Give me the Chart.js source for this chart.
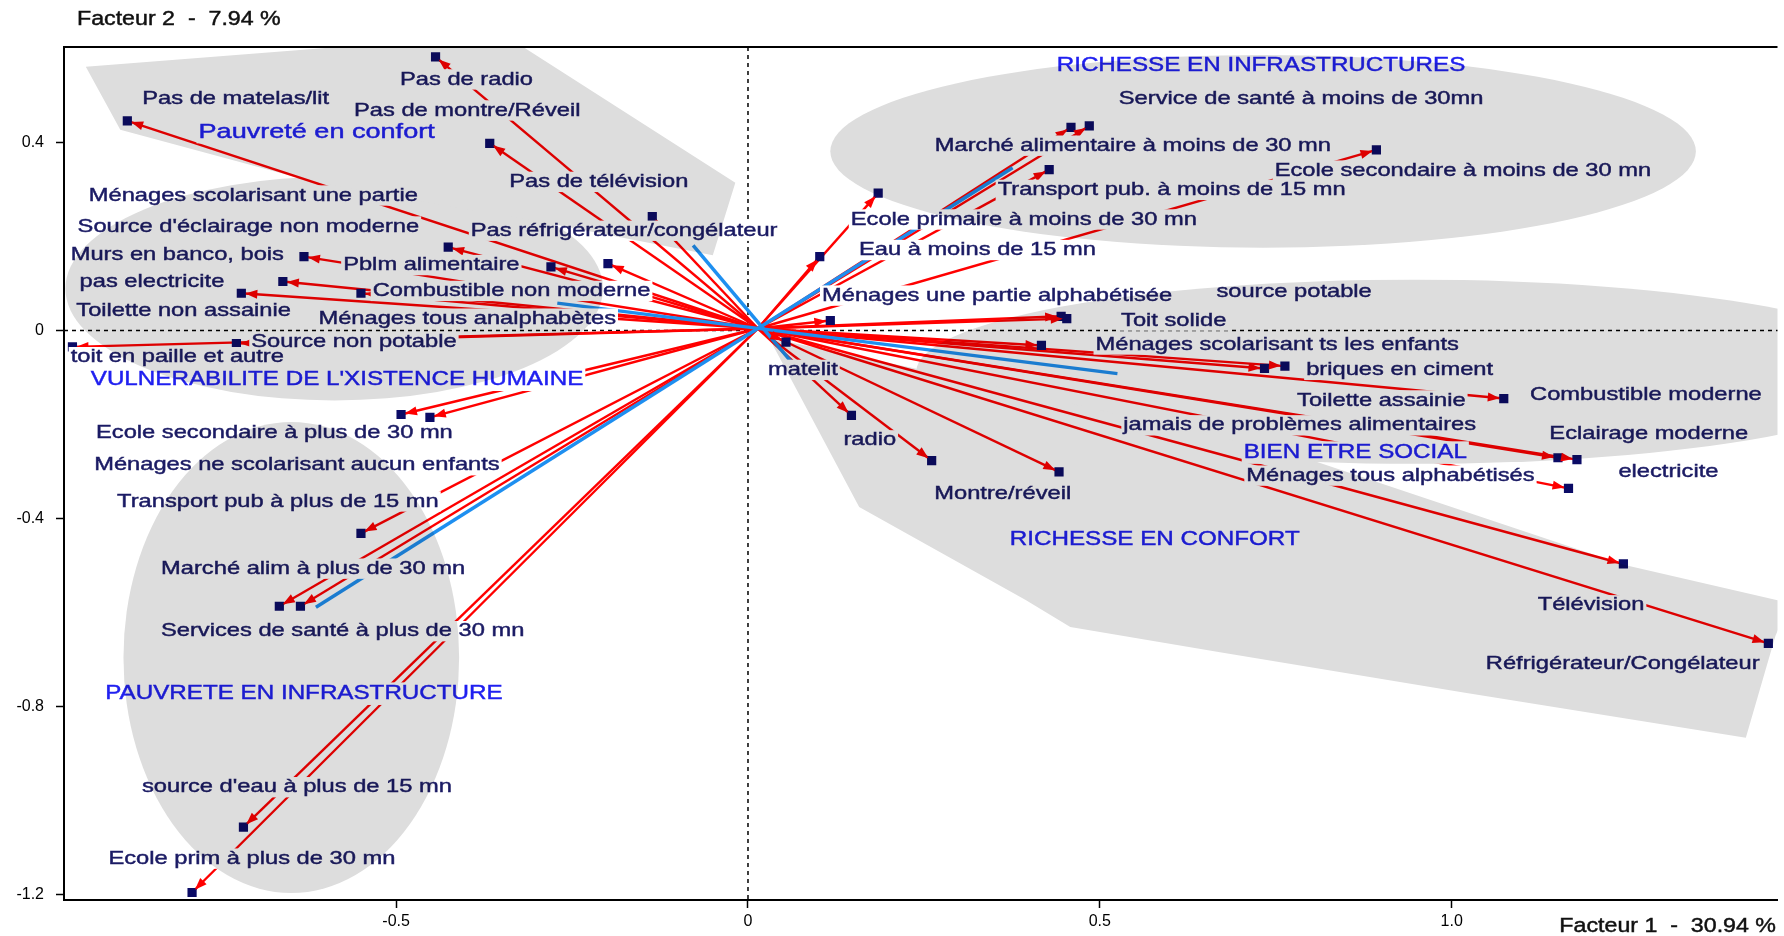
<!DOCTYPE html>
<html>
<head>
<meta charset="utf-8">
<script src="https://cdn.jsdelivr.net/npm/chart.js@4.4.1/dist/chart.umd.min.js"></script>
<style>
  html, body { margin: 0; padding: 0; background: #fff; }
</style>
</head>
<body>
<canvas id="chart" width="1784" height="936"></canvas>
<script>
// modalities: coordinates on factor 1 and factor 2
const factor1 = [
  -0.444, -0.882, -0.367, -0.136, -0.199, -0.280, -0.426, -0.631, -0.661, -0.720, -0.550, -0.727, -0.960,
  -0.493, -0.452, -0.550, -0.666, -0.636, -0.717, -0.790,
  0.459, 0.485, 0.893, 0.428, 0.185, 0.102, 0.117, 0.445, 0.453, 0.417, 0.763, 0.734, 1.074, 0.054,
  0.147, 0.261, 0.442, 1.151, 1.178, 1.166, 1.244, 1.450
];
const factor2 = [
  0.582, 0.446, 0.398, 0.242, 0.142, 0.135, 0.177, 0.157, 0.104, 0.079, 0.079, -0.028, -0.035,
  -0.179, -0.185, -0.432, -0.587, -0.587, -1.057, -1.196,
  0.432, 0.435, 0.384, 0.342, 0.292, 0.157, 0.021, 0.030, 0.025, -0.032, -0.076, -0.081, -0.145, -0.025,
  -0.181, -0.277, -0.301, -0.271, -0.275, -0.336, -0.497, -0.666
];
const arrowOrigin = [0.014, 0.004];

// blue axes through the origin
const axisFrom1 = [-0.614, -0.271, -0.078];
const axisFrom2 = [-0.589, 0.058, 0.181];
const axisTo1 = [0.376, 0.525, 0.064];
const axisTo2 = [0.346, -0.092, -0.071];

const xTicks = [-0.5, 0, 0.5, 1.0];
const yTicks = [0.4, 0, -0.4, -0.8, -1.2];

const labelText = [
  'Pas de radio', 'Pas de matelas/lit', 'Pas de montre/Réveil', 'Pas de télévision', 'Ménages scolarisant une partie',
  "Source d'éclairage non moderne", 'Pas réfrigérateur/congélateur', 'Murs en banco, bois', 'Pblm alimentaire',
  'pas electricite', 'Combustible non moderne', 'Toilette non assainie', 'Ménages tous analphabètes',
  'Source non potable', 'toit en paille et autre', 'Ecole secondaire à plus de 30 mn',
  'Ménages ne scolarisant aucun enfants', 'Transport pub à plus de 15 mn', 'Marché alim à plus de 30 mn',
  'Services de santé à plus de 30 mn', "source d'eau à plus de 15 mn", 'Ecole prim à plus de 30 mn',
  'Service de santé à moins de 30mn', 'Marché alimentaire à moins de 30 mn', 'Ecole secondaire à moins de 30 mn',
  'Transport pub. à moins de 15 mn', 'Ecole primaire à moins de 30 mn', 'Eau à moins de 15 mn',
  'Ménages une partie alphabétisée', 'source potable', 'Toit solide', 'Ménages scolarisant ts les enfants',
  'matelit', 'briques en ciment', 'Toilette assainie', 'Combustible moderne', 'jamais de problèmes alimentaires',
  'Eclairage moderne', 'radio', 'Ménages tous alphabétisés', 'electricite', 'Montre/réveil', 'Télévision',
  'Réfrigérateur/Congélateur'
];
const labelX = [
  -0.400, -0.728, -0.399, -0.212, -0.703, -0.710, -0.176, -0.811, -0.450, -0.847, -0.336, -0.802, -0.399,
  -0.560, -0.811, -0.673, -0.641, -0.668, -0.618, -0.576, -0.641, -0.705,
  0.786, 0.547, 1.016, 0.602, 0.392, 0.326, 0.354, 0.776, 0.605, 0.752, 0.078, 0.926, 0.900, 1.276, 0.784,
  1.280, 0.173, 0.913, 1.308, 0.362, 1.198, 1.243
];
const labelY = [
  0.534, 0.493, 0.468, 0.316, 0.287, 0.221, 0.212, 0.161, 0.139, 0.103, 0.084, 0.042, 0.025,
  -0.025, -0.057, -0.219, -0.287, -0.364, -0.507, -0.640, -0.972, -1.124,
  0.493, 0.393, 0.340, 0.299, 0.236, 0.171, 0.074, 0.081, 0.021, -0.030, -0.084, -0.084, -0.149, -0.137, -0.202,
  -0.221, -0.234, -0.309, -0.301, -0.347, -0.585, -0.710
];

const groupText = [
  'Pauvreté en confort', "VULNERABILITE DE L'XISTENCE HUMAINE", 'PAUVRETE EN INFRASTRUCTURE',
  'RICHESSE EN INFRASTRUCTURES', 'BIEN ETRE SOCIAL', 'RICHESSE EN CONFORT'
];
const groupX = [-0.613, -0.584, -0.631, 0.729, 0.863, 0.578];
const groupY = [0.422, -0.105, -0.773, 0.563, -0.260, -0.444];

// grey zones (ellipses, then two polygons)
const zoneCx = [-0.588, -0.649, 0.732, 0.947];
const zoneCy = [0.089, -0.696, 0.381, -0.088];
const zoneRx = [0.382, 0.2385, 0.615, 0.708];
const zoneRy = [0.238, 0.501, 0.205, 0.196];
const poorComfortX = [-0.941, -0.455, -0.335, -0.018, -0.050, -0.271, -0.617, -0.892];
const poorComfortY = [0.561, 0.618, 0.618, 0.314, 0.160, 0.224, 0.316, 0.427];
const richComfortX = [0.030, 0.260, 0.777, 1.246, 1.480, 1.460, 1.418, 1.019, 0.675, 0.458, 0.394, 0.158];
const richComfortY = [-0.016, -0.088, -0.264, -0.499, -0.580, -0.650, -0.867, -0.771, -0.686, -0.631, -0.573, -0.376];

const FONT = '"Liberation Sans", Arial, sans-serif';
const NAVY = '#0b0b66';
const RED = '#ff0000';
const BLUE = '#1e8ff0';

function stretchText(ctx, text, px, py, size, sx, color, align) {
  ctx.font = size + 'px ' + FONT;
  const w = ctx.measureText(text).width * sx;
  const left = align === 'center' ? px - w / 2 : align === 'right' ? px - w : px;
  ctx.save();
  ctx.translate(left, py);
  ctx.scale(sx, 1);
  ctx.fillStyle = color;
  ctx.strokeStyle = color;
  ctx.lineWidth = 0.45;
  ctx.textAlign = 'left';
  ctx.textBaseline = 'middle';
  ctx.fillText(text, 0, 0);
  ctx.strokeText(text, 0, 0);
  ctx.restore();
}

function textBox(ctx, text, px, py, size, sx) {
  ctx.font = size + 'px ' + FONT;
  const w = ctx.measureText(text).width * sx;
  ctx.fillStyle = '#fff';
  ctx.fillRect(px - w / 2 - 2, py - size * 0.55, w + 4, size * 1.1);
}

const decor = {
  id: 'decor',
  beforeDraw(chart) {
    const ctx = chart.ctx;
    ctx.save();
    ctx.fillStyle = '#fff';
    ctx.fillRect(0, 0, chart.width, chart.height);
    ctx.restore();
  },
  beforeDatasetsDraw(chart) {
    const { ctx, chartArea: a, scales: { x, y } } = chart;
    const x0 = x.getPixelForValue(0), y0 = y.getPixelForValue(0);
    ctx.save();
    ctx.strokeStyle = '#000';
    ctx.lineWidth = 1.5;
    ctx.setLineDash([4, 4]);
    ctx.beginPath();
    ctx.moveTo(x0, a.top); ctx.lineTo(x0, a.bottom);
    ctx.moveTo(a.left, y0); ctx.lineTo(a.right, y0);
    ctx.stroke();
    ctx.restore();
  },
  afterDatasetsDraw(chart) {
    const { ctx, chartArea: a, scales: { x, y } } = chart;
    ctx.save();
    ctx.beginPath();
    ctx.rect(a.left, a.top, a.right - a.left, a.bottom - a.top);
    ctx.clip();

    // arrow heads
    const ox = x.getPixelForValue(arrowOrigin[0]), oy = y.getPixelForValue(arrowOrigin[1]);
    ctx.fillStyle = RED;
    factor1.forEach((v, i) => {
      const px = x.getPixelForValue(v), py = y.getPixelForValue(factor2[i]);
      const len = Math.hypot(px - ox, py - oy);
      const ux = (px - ox) / len, uy = (py - oy) / len;
      const tx = px - ux * 4, ty = py - uy * 4;
      const bx = tx - ux * 12, by = ty - uy * 12;
      ctx.beginPath();
      ctx.moveTo(tx, ty);
      ctx.lineTo(bx - uy * 4.5, by + ux * 4.5);
      ctx.lineTo(bx + uy * 4.5, by - ux * 4.5);
      ctx.closePath();
      ctx.fill();
    });

    // label backgrounds, then texts
    labelText.forEach((t, i) => textBox(ctx, t, x.getPixelForValue(labelX[i]), y.getPixelForValue(labelY[i]), 18.5, 1.28));
    groupText.forEach((t, i) => textBox(ctx, t, x.getPixelForValue(groupX[i]), y.getPixelForValue(groupY[i]), 20.5, i === 0 ? 1.32 : 1.18));
    labelText.forEach((t, i) => stretchText(ctx, t, x.getPixelForValue(labelX[i]), y.getPixelForValue(labelY[i]), 18.5, 1.28, '#1b1b64', 'center'));
    groupText.forEach((t, i) => stretchText(ctx, t, x.getPixelForValue(groupX[i]), y.getPixelForValue(groupY[i]), 20.5, i === 0 ? 1.32 : 1.18, '#2020f0', 'center'));

    // grey zones laid over everything like a marker
    const off = document.createElement('canvas');
    off.width = chart.canvas.width;
    off.height = chart.canvas.height;
    const g = off.getContext('2d');
    const r = chart.currentDevicePixelRatio || 1;
    g.scale(r, r);
    g.fillStyle = '#dddddd';
    zoneCx.forEach((cx, i) => {
      const px = x.getPixelForValue(cx), py = y.getPixelForValue(zoneCy[i]);
      const rx = Math.abs(x.getPixelForValue(cx + zoneRx[i]) - px);
      const ry = Math.abs(y.getPixelForValue(zoneCy[i] + zoneRy[i]) - py);
      g.beginPath();
      g.ellipse(px, py, rx, ry, 0, 0, Math.PI * 2);
      g.fill();
    });
    [[poorComfortX, poorComfortY], [richComfortX, richComfortY]].forEach(([xs, ys]) => {
      g.beginPath();
      xs.forEach((v, i) => {
        const px = x.getPixelForValue(v), py = y.getPixelForValue(ys[i]);
        if (i === 0) g.moveTo(px, py); else g.lineTo(px, py);
      });
      g.closePath();
      g.fill();
    });
    ctx.globalCompositeOperation = 'multiply';
    ctx.drawImage(off, 0, 0, chart.width, chart.height);
    ctx.restore();

    // top frame line and axis titles
    ctx.save();
    ctx.strokeStyle = '#000';
    ctx.lineWidth = 2;
    ctx.beginPath();
    ctx.moveTo(a.left, a.top); ctx.lineTo(a.right, a.top);
    ctx.stroke();
    ctx.restore();
    stretchText(ctx, 'Facteur 2  -  7.94 %', 77, 19, 20, 1.16, '#111', 'left');
    stretchText(ctx, 'Facteur 1  -  30.94 %', 1776, 926, 20, 1.16, '#111', 'right');
  }
};

const datasets = [{
  data: factor1.map((v, i) => ({ x: v, y: factor2[i] })),
  pointStyle: 'rect',
  pointRadius: 6.5,
  pointBackgroundColor: NAVY,
  pointBorderWidth: 0,
  showLine: false
}];
axisFrom1.forEach((v, k) => datasets.push({
  data: [{ x: v, y: axisFrom2[k] }, { x: axisTo1[k], y: axisTo2[k] }],
  showLine: true, borderColor: BLUE, borderWidth: 3.5, pointRadius: 0
}));
factor1.forEach((v, i) => datasets.push({
  data: [{ x: arrowOrigin[0], y: arrowOrigin[1] }, { x: v, y: factor2[i] }],
  showLine: true, borderColor: RED, borderWidth: 2.4, pointRadius: 0
}));

new Chart(document.getElementById('chart'), {
  type: 'scatter',
  data: { datasets },
  options: {
    responsive: false,
    animation: false,
    events: [],
    layout: { padding: { top: 47, left: 0, right: 0, bottom: 0 } },
    plugins: { legend: { display: false }, tooltip: { enabled: false } },
    scales: {
      x: {
        type: 'linear', min: -0.972, max: 1.463,
        afterBuildTicks: s => { s.ticks = xTicks.map(value => ({ value })); },
        afterFit: s => { s.height = 36; },
        grid: { drawOnChartArea: false, tickLength: 8, tickColor: '#000', tickWidth: 1.5 },
        border: { color: '#000', width: 2 },
        ticks: {
          color: '#000', font: { family: FONT, size: 16 }, padding: 4, maxRotation: 0, autoSkip: false,
          callback: v => (v === 1 ? '1.0' : String(v))
        }
      },
      y: {
        type: 'linear', min: -1.212, max: 0.603,
        afterBuildTicks: s => { s.ticks = yTicks.map(value => ({ value })); },
        afterFit: s => { s.width = 64; },
        grid: { drawOnChartArea: false, tickLength: 8, tickColor: '#000', tickWidth: 1.5 },
        border: { color: '#000', width: 2 },
        ticks: {
          color: '#000', font: { family: FONT, size: 16 }, padding: 12, autoSkip: false,
          callback: v => String(v)
        }
      }
    }
  },
  plugins: [decor]
});
</script>
</body>
</html>
